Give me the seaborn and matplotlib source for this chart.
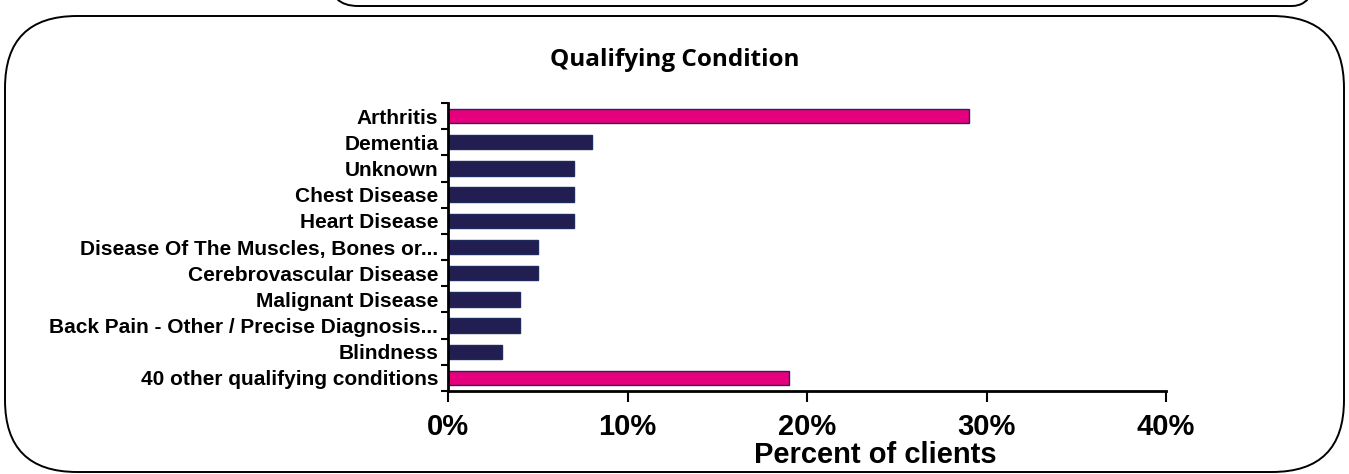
import matplotlib
matplotlib.use("Agg")
import matplotlib.pyplot as plt
import seaborn as sns
import pandas as pd
import numpy as np
from matplotlib.patches import FancyBboxPatch
from matplotlib.ticker import FixedLocator, PercentFormatter

# data
conditions = [
    "Arthritis",
    "Dementia",
    "Unknown",
    "Chest Disease",
    "Heart Disease",
    "Disease Of The Muscles, Bones or...",
    "Cerebrovascular Disease",
    "Malignant Disease",
    "Back Pain - Other / Precise Diagnosis...",
    "Blindness",
    "40 other qualifying conditions",
]
percent = [29, 8, 7, 7, 7, 5, 5, 4, 4, 3, 19]
highlight = [True, False, False, False, False, False, False, False, False, False, True]

pink = "#E6007E"
navy = "#221E52"

df = pd.DataFrame({"condition": conditions, "percent": percent})
colors = [pink if h else navy for h in highlight]

sns.set_style("white", {"text.color": "black", "axes.labelcolor": "black",
                        "xtick.color": "black", "ytick.color": "black"})
plt.rcParams["font.family"] = ["Liberation Sans", "DejaVu Sans"]

W, H = 1349, 474
fig = plt.figure(figsize=(W / 100, H / 100), dpi=100)

# background layer in pixel coordinates for the rounded frames
bg = fig.add_axes([0, 0, 1, 1], zorder=-5)
bg.set_xlim(0, W)
bg.set_ylim(H, 0)
bg.axis("off")
bg.add_patch(FancyBboxPatch((5, 16), 1339, 456, boxstyle="round,pad=0,rounding_size=72",
                            facecolor="none", edgecolor="black", linewidth=1.4))
bg.add_patch(FancyBboxPatch((330, -80), 990, 86, boxstyle="round,pad=0,rounding_size=28",
                            facecolor="none", edgecolor="black", linewidth=1.4))

ax = fig.add_axes([448 / W, 1 - 391 / H, 718 / W, 288 / H])

sns.barplot(data=df, y="condition", x="percent", hue="condition", palette=colors,
            legend=False, width=0.55, saturation=1, edgecolor="#1F2A5C", linewidth=1,
            ax=ax, orient="h")

ax.set_xlim(0, 40)
ax.set_ylim(len(conditions) - 0.5, -0.5)
ax.xaxis.set_major_locator(FixedLocator([0, 10, 20, 30, 40]))
ax.xaxis.set_major_formatter(PercentFormatter(decimals=0))

for s in ["top", "right"]:
    ax.spines[s].set_visible(False)
for s in ["left", "bottom"]:
    ax.spines[s].set_color("black")
    ax.spines[s].set_linewidth(2)

ax.tick_params(axis="x", which="major", direction="out", length=8, width=1.5,
               color="black", labelcolor="black", labelsize=21, pad=8, bottom=True)
for lab in ax.get_xticklabels():
    lab.set_fontweight("bold")

# category labels without marks, marks on the boundaries
ax.tick_params(axis="y", which="major", length=0, labelsize=15, pad=7, labelcolor="black")
for lab in ax.get_yticklabels():
    lab.set_fontweight("bold")
ax.yaxis.set_minor_locator(FixedLocator(np.arange(-0.5, len(conditions), 1)))
ax.tick_params(axis="y", which="minor", direction="out", length=5, width=1.5,
               color="black", left=True)

ax.set_ylabel("")
ax.set_xlabel("Percent of clients", fontsize=21, fontweight="bold", va="center", color="black")
ax.xaxis.set_label_coords(0.595, -0.222)

fig.text(0.5, 1 - 60 / H, "Qualifying Condition", ha="center", va="center", color="black",
         fontsize=17.5, fontweight="bold", family=["Open Sans", "DejaVu Sans"])

fig.savefig("out.png", dpi=100, facecolor="white")
